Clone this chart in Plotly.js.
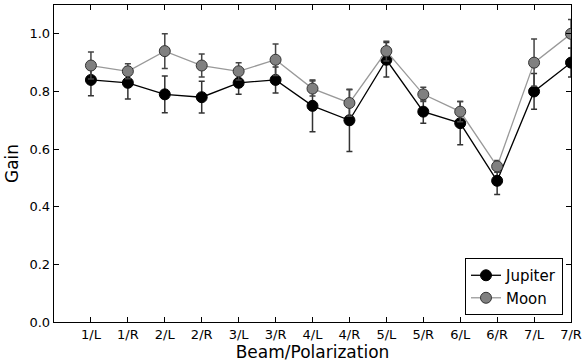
<!DOCTYPE html>
<html><head><meta charset="utf-8">
<script src="https://cdn.plot.ly/plotly-3.0.1.min.js"></script>
<style>html,body{margin:0;padding:0;background:#fff}</style>
</head><body><div id="chart" style="width:582px;height:364px"></div>
<script>
const categories = ["1/L","1/R","2/L","2/R","3/L","3/R","4/L","4/R","5/L","5/R","6/L","6/R","7/L","7/R"];
const jupiter = [0.84,0.83,0.79,0.78,0.83,0.84,0.75,0.70,0.91,0.73,0.69,0.49,0.80,0.90];
const jupiterErr = [0.055,0.056,0.064,0.055,0.04,0.045,0.09,0.108,0.06,0.04,0.075,0.048,0.062,0.05];
const moon = [0.89,0.87,0.94,0.89,0.87,0.91,0.81,0.76,0.94,0.79,0.73,0.54,0.90,1.00];
const moonErr = [0.047,0.026,0.06,0.04,0.03,0.055,0.026,0.046,0.034,0.025,0.035,0.02,0.082,0.05];

const idx = categories.map((c,i)=>i);
const traces = [
  {x: idx, y: jupiter, name: "Jupiter", type: "scatter", mode: "lines+markers",
   line: {color: "#000", width: 1.3},
   marker: {color: "#000", size: 11, line: {color: "#000", width: 1}},
   error_y: {type: "data", array: jupiterErr, visible: true, color: "#333", thickness: 1.5, width: 3}},
  {x: idx, y: moon, name: "Moon", type: "scatter", mode: "lines+markers",
   line: {color: "#999", width: 1.3},
   marker: {color: "#808080", size: 11, line: {color: "#333", width: 1}},
   error_y: {type: "data", array: moonErr, visible: true, color: "#444", thickness: 1.5, width: 3}}
];
const layout = {
  width: 582, height: 364,
  margin: {l: 54, r: 11, t: 5, b: 42},
  paper_bgcolor: "#fff", plot_bgcolor: "#fff",
  font: {family: "DejaVu Sans", size: 12, color: "#000"},
  showlegend: true,
  legend: {x: 0.9845, y: 0.022, xanchor: "right", yanchor: "bottom",
    bordercolor: "#000", borderwidth: 1, bgcolor: "#fff",
    font: {family: "DejaVu Sans", size: 15, color: "#000"}, tracegroupgap: 0},
  xaxis: {range: [-1, 13], tickvals: idx, ticktext: categories,
    showgrid: false, zeroline: false, showline: true, linecolor: "#000", linewidth: 1.3,
    mirror: "ticks", ticks: "inside", ticklen: 5, tickcolor: "#000",
    tickfont: {family: "DejaVu Sans", size: 13, color: "#000"},
    title: {text: "Beam/Polarization", font: {family: "DejaVu Sans", size: 17, color: "#000"}, standoff: 5}},
  yaxis: {range: [0, 1.1], tickvals: [0,0.2,0.4,0.6,0.8,1.0], ticktext: ["0.0","0.2","0.4","0.6","0.8","1.0"],
    showgrid: false, zeroline: false, showline: true, linecolor: "#000", linewidth: 1.3,
    mirror: "ticks", ticks: "inside", ticklen: 5, tickcolor: "#000",
    tickfont: {family: "DejaVu Sans", size: 13, color: "#000"},
    title: {text: "Gain", font: {family: "DejaVu Sans", size: 17, color: "#000"}, standoff: 6}}
};
Plotly.newPlot("chart", traces, layout, {displayModeBar: false, staticPlot: true});
</script></body></html>
